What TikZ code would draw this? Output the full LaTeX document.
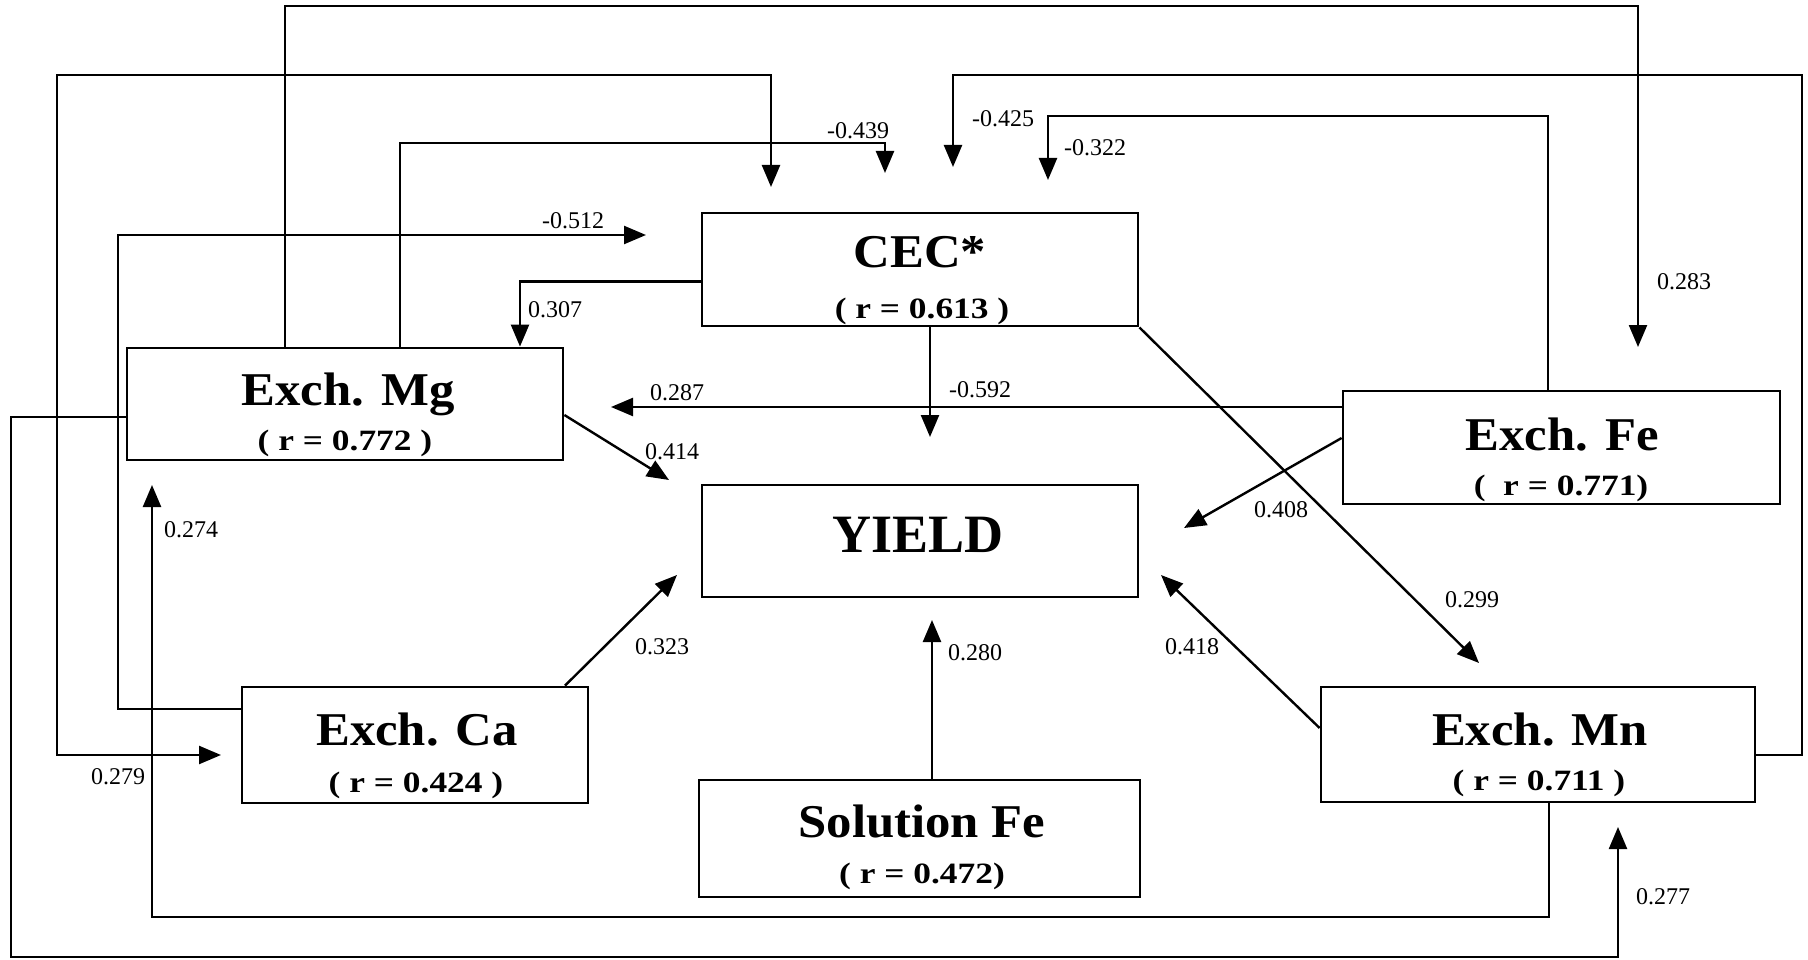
\documentclass[tikz,border=0pt]{standalone}
\usepackage{fontspec}
\setmainfont{Liberation Serif}
\newfontfamily\rfam[FakeStretch=1.2]{Liberation Serif}
\newfontfamily\tfam[FakeStretch=1.08]{Liberation Serif}
\usetikzlibrary{arrows.meta}
\begin{document}
\begin{tikzpicture}[x=1pt,y=-1pt,
  box/.style={draw,line width=2.8pt,inner sep=0pt},
  ttl/.style={anchor=base,inner sep=0pt,font=\tfam\bfseries\fontsize{47}{47}\selectfont},
  rr/.style={anchor=base,inner sep=0pt,font=\rfam\bfseries\fontsize{29.5}{29.5}\selectfont},
  lab/.style={inner sep=0pt,font=\fontsize{24}{24}\selectfont},
  conn/.style={line width=2.4pt,-{Triangle[length=22pt,width=18pt]}},
  connboth/.style={line width=2.4pt,{Triangle[length=22pt,width=18pt]}-{Triangle[length=22pt,width=18pt]}}]
\useasboundingbox (0,0) rectangle (1808,960);

% boxes
\node[box,minimum width=436pt,minimum height=113pt] (cec) at (920,269.5) {};
\node[box,minimum width=436pt,minimum height=112pt] (yield) at (920,541) {};
\node[box,minimum width=436pt,minimum height=112pt] (mg) at (345,404) {};
\node[box,minimum width=437pt,minimum height=113pt] (fe) at (1561.5,447.5) {};
\node[box,minimum width=346pt,minimum height=116pt] (ca) at (415,745) {};
\node[box,minimum width=434pt,minimum height=115pt] (mn) at (1538,744.5) {};
\node[box,minimum width=441pt,minimum height=117pt] (sol) at (919.5,838.5) {};

% box texts
\node[ttl] (cecT) at (920,268) {CEC*};
\node[rr] (cecR) at (922,319) {( r = 0.613 )};
\node[anchor=base,inner sep=0pt,font=\bfseries\fontsize{54}{54}\selectfont] (yieldT) at (918,552) {YIELD};
\node[ttl] (mgT) at (348,405) {Exch. Mg};
\node[rr] (mgR) at (345,450) {( r = 0.772 )};
\node[ttl] (feT) at (1562,450) {Exch. Fe};
\node[rr] (feR) at (1561,495) {(\ \ r = 0.771)};
\node[ttl] (caT) at (417,745) {Exch. Ca};
\node[rr] (caR) at (416,792) {( r = 0.424 )};
\node[ttl] (mnT) at (1540,745) {Exch. Mn};
\node[rr] (mnR) at (1539,790) {( r = 0.711 )};
\node[ttl] (solT) at (922,837) {Solution Fe};
\node[rr] (solR) at (922,883) {( r = 0.472)};

% helper coordinates
\coordinate (kA) at (1638,6);   \coordinate (tA) at (1638,347);
\coordinate (kB) at (885,143);  \coordinate (tB) at (885,173);
\coordinate (kD) at (118,235);  \coordinate (tD) at (646,235);
\coordinate (tE1) at (771,187); \coordinate (kE) at (57,75); \coordinate (tE2) at (221,755);
\coordinate (kF) at (1802,75);  \coordinate (tF) at (953,167);
\coordinate (kG) at (1048,116); \coordinate (tG) at (1048,180);
\coordinate (tH) at (611,407);
\coordinate (tI) at (930,437);
\coordinate (tJ) at (669,480);
\coordinate (tK) at (677,575);
\coordinate (tL) at (932,620);
\coordinate (tM) at (1161,575);
\coordinate (tN) at (1479,663);
\coordinate (tO) at (1184,528);
\coordinate (kP) at (152,917);  \coordinate (tP) at (152,485);
\coordinate (kQ) at (11,957);   \coordinate (tQ) at (1618,827);

% connectors
\draw[conn] ([xshift=-60pt]mg.north) |- (kA) -- (tA);
\draw[conn] ([xshift=55pt]mg.north) |- (kB) -- (tB);
\draw[conn] ([yshift=-12pt]cec.west) -| ([xshift=175pt]mg.north);
\draw[conn] ([yshift=36pt]ca.west) -| (kD) -- (tD);
\draw[connboth] (tE1) |- (kE) |- (tE2);
\draw[conn] ([yshift=-10.5pt]mn.east) -| (kF) -| (tF);
\draw[conn] ([xshift=-13.5pt]fe.north) |- (kG) -- (tG);
\draw[conn] ([yshift=40.5pt]fe.west) -- (tH);
\draw[conn] ([xshift=10pt]cec.south) -- (tI);
\draw[conn] ([yshift=-11pt]mg.east) -- (tJ);
\draw[conn] ([xshift=150pt]ca.north) -- (tK);
\draw[conn] ([xshift=12.5pt]sol.north) -- (tL);
\draw[conn] ([yshift=16.5pt]mn.west) -- (tM);
\draw[conn] (cec.south east) -- (tN);
\draw[conn] ([yshift=9.5pt]fe.west) -- (tO);
\draw[conn] ([xshift=11pt]mn.south) |- (kP) -- (tP);
\draw[conn] ([yshift=-13pt]mg.west) -| (kQ) -| (tQ);

% labels
\node[lab] (l1) at (858,131) {-0.439};
\node[lab] (l2) at (1003,119) {-0.425};
\node[lab] (l3) at (1095,148) {-0.322};
\node[lab] (l4) at (573,221) {-0.512};
\node[lab] (l5) at (555,310) {0.307};
\node[lab] (l6) at (677,393) {0.287};
\node[lab] (l7) at (980,390) {-0.592};
\node[lab] (l8) at (672,452) {0.414};
\node[lab] (l9) at (191,530) {0.274};
\node[lab] (l10) at (662,647) {0.323};
\node[lab] (l11) at (118,777) {0.279};
\node[lab] (l12) at (975,653) {0.280};
\node[lab] (l13) at (1192,647) {0.418};
\node[lab] (l14) at (1281,510) {0.408};
\node[lab] (l15) at (1472,600) {0.299};
\node[lab] (l16) at (1684,282) {0.283};
\node[lab] (l17) at (1663,897) {0.277};
\end{tikzpicture}
\end{document}
